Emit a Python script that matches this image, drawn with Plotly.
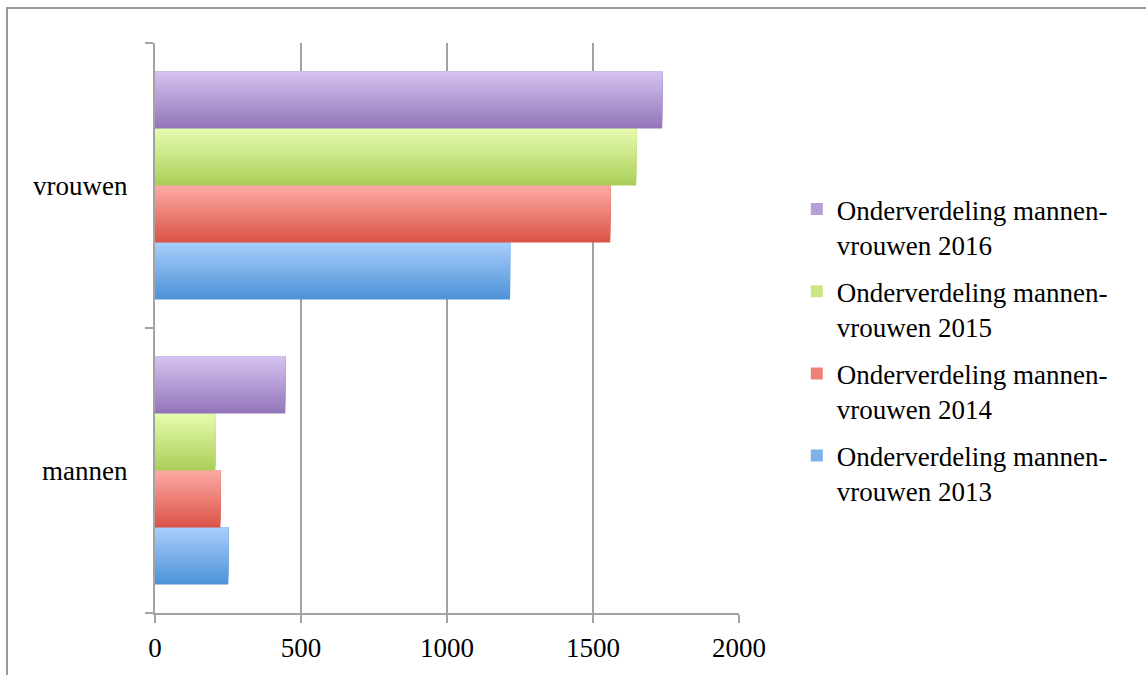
import plotly.graph_objects as go

categories = ["mannen", "vrouwen"]
years = ["2013", "2014", "2015", "2016"]
v2013 = [251, 1216]
v2014 = [224, 1559]
v2015 = [207, 1648]
v2016 = [446, 1737]
series_values = [v2013, v2014, v2015, v2016]
series_labels = ["Onderverdeling mannen-<br>vrouwen " + y for y in years]
x_ticks = [0, 500, 1000, 1500, 2000]

# gradient colours (top, bottom) per series
grad = [
    ((166, 204, 250), (79, 148, 216)),   # 2013 blue
    ((252, 168, 162), (219, 85, 73)),    # 2014 red
    ((228, 250, 172), (172, 207, 90)),   # 2015 green
    ((212, 192, 239), (148, 119, 187)),  # 2016 purple
]

FONT = "Liberation Serif"
N = 16
bargap = 0.2
bw = (1 - bargap) / len(years)

fig = go.Figure()
for i, (vals, lab, (top, bot)) in enumerate(zip(series_values, series_labels, grad)):
    base_off = -(1 - bargap) / 2 + i * bw
    for j in range(N):
        t = j / (N - 1)
        c = tuple(int(round(bot[k] + (top[k] - bot[k]) * t)) for k in range(3))
        fig.add_trace(go.Bar(
            y=categories, x=vals, orientation="h",
            offset=base_off + j * bw / N, width=bw - j * bw / N,
            marker=dict(color="rgb(%d,%d,%d)" % c, line=dict(width=0)),
            name=lab, legendgroup=years[i], legendrank=100 - i,
            showlegend=(j == N // 2),
            hoverinfo="x+y",
        ))

fig.update_layout(
    width=1146, height=675,
    barmode="overlay",
    paper_bgcolor="white", plot_bgcolor="white",
    margin=dict(l=155, r=407, t=43, b=62, autoexpand=False),
    font=dict(family=FONT, size=27, color="#000000"),
    legend=dict(
        x=1.099, xanchor="left", y=0.751, yanchor="top",
        traceorder="grouped", tracegroupgap=9,
        valign="top", bgcolor="rgba(0,0,0,0)",
        font=dict(family=FONT, size=27, color="#000000"),
    ),
    xaxis=dict(
        range=[0, 2000], tickvals=x_ticks, ticktext=[str(v) for v in x_ticks],
        showgrid=True, gridcolor="#a3a3a3", gridwidth=2,
        showline=True, linecolor="#a3a3a3", linewidth=2,
        ticks="outside", ticklen=8, tickcolor="#a3a3a3", tickwidth=2,
        zeroline=False, ticklabelstandoff=2,
    ),
    yaxis=dict(
        type="category", categoryorder="array", categoryarray=categories,
        showgrid=False, showline=True, linecolor="#a3a3a3", linewidth=2,
        ticks="outside", tickson="boundaries", ticklen=8,
        tickcolor="#a3a3a3", tickwidth=2, ticklabelstandoff=20,
    ),
    shapes=[dict(
        type="rect", xref="paper", yref="paper",
        x0=(7 - 155) / 584, x1=(1160 - 155) / 584,
        y0=-0.2, y1=1 + 35 / 570,
        line=dict(color="#9a9a9a", width=2), fillcolor="rgba(0,0,0,0)",
        layer="below",
    )],
)

fig.write_html(
    "out.html",
    config={"displayModeBar": False},
    post_script="document.body.style.margin='0';document.body.style.overflow='hidden';",
)
